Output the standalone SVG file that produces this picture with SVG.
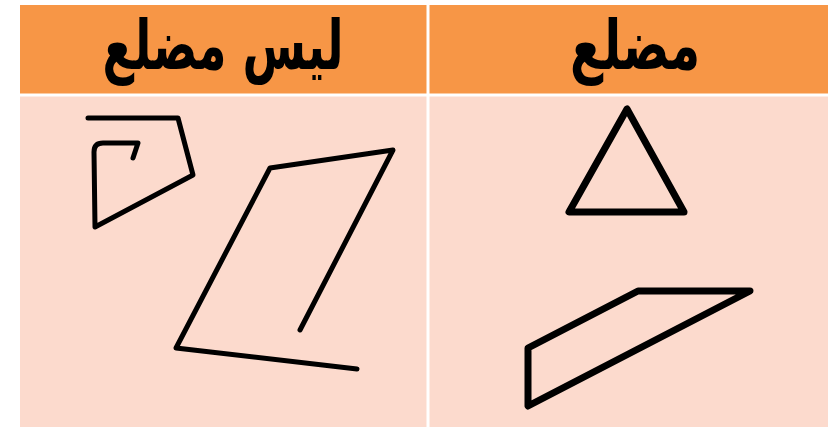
<svg xmlns="http://www.w3.org/2000/svg" width="833" height="433" viewBox="0 0 833 433">
<style>
.hdr{fill:#F79646}
.body{fill:#FCDACD}
.sep{stroke:#FFFFFF;stroke-width:3}
.t{font-family:"DejaVu Sans",sans-serif;font-weight:bold;font-size:46px;fill:#000;text-anchor:middle}
.shape{fill:none;stroke:#000;stroke-linejoin:round;stroke-linecap:round}
.thick{stroke-width:7}
.thin{stroke-width:5}
</style>
<rect width="833" height="433" fill="#FFFFFF"/>
<g id="table">
<rect class="hdr" x="20" y="5" width="808" height="90"/>
<rect class="body" x="20" y="95" width="808" height="332"/>
<line class="sep" x1="20" y1="95" x2="828" y2="95"/>
<line class="sep" x1="428" y1="5" x2="428" y2="427"/>
</g>
<g id="header-not-polygon"><text class="t" transform="translate(223,69) scale(1,1.5)" x="0" y="0">ليس مضلع</text></g>
<g id="header-polygon"><text class="t" transform="translate(635,69) scale(1.05,1.5)" x="0" y="0">مضلع</text></g>
<g id="triangle"><polygon class="shape thick" points="627,109 569,212 684,212"/></g>
<g id="quad"><polygon class="shape thick" points="528,348 638,291 750,291 528,406"/></g>
<g id="open-small"><path class="shape thin" d="M88,118 L178,118 L193,175 L95,227 L94,152 Q94,143 103,143 L138,143 L133,158"/></g>
<g id="open-big"><polyline class="shape thin" points="357,369 176,348 270,168 393,150 300,330"/></g>
</svg>
